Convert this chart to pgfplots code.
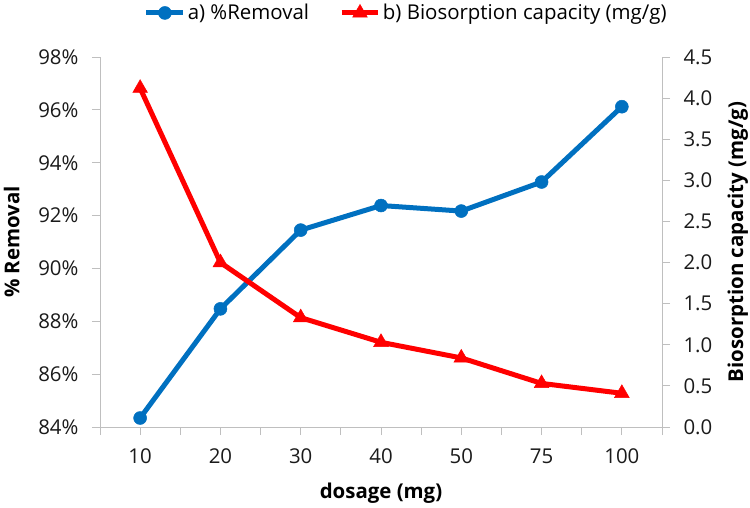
\documentclass[border=0pt]{standalone}
\usepackage{pgfplots}
\pgfplotsset{compat=1.18}
\usepackage{fontspec}
\setmainfont{Open Sans}

\definecolor{remblue}{HTML}{0070C0}
\definecolor{capred}{HTML}{FF0000}
\definecolor{axgray}{HTML}{BFBFBF}
\definecolor{txt}{HTML}{1A1A1A}

\begin{document}
\begin{tikzpicture}
\pgfplotsset{
  every axis/.append style={
    scale only axis, width=562bp, height=370bp,
    at={(100bp,81bp)}, anchor=south west,
    xmin=-0.5, xmax=6.5, clip=false,
    font=\fontsize{20.5}{24}\selectfont,
    /pgf/number format/assume math mode=true,
    axis line style={axgray, line width=0.9bp},
    tick style={axgray, line width=0.9bp},
    major tick length=8bp, minor tick length=8bp,
    tick align=outside,
    ticklabel style={text=txt},
    label style={font=\fontsize{20.5}{24}\selectfont\bfseries, text=black},
  },
}
% left axis: removal efficiency
\begin{axis}[
  axis y line*=left, axis x line*=bottom,
  xtick={0,...,6}, xticklabels={10,20,30,40,50,75,100},
  minor xtick={-0.5,0.5,...,6.5},
  xticklabel style={yshift=-10bp},
  ymin=84, ymax=98, ytick={84,86,...,98},
  yticklabel={\pgfmathprintnumber{\tick}\%},
  yticklabel style={xshift=-10bp},
  xlabel={dosage (mg)}, ylabel={\% Removal},
  xlabel style={at={(axis description cs:0.5,-0.178)}, anchor=center},
  ylabel style={at={(axis description cs:-0.157,0.5)}, anchor=center},
]
\addplot[remblue, line width=5bp, mark=*, mark size=6.5bp, mark options={line width=0.5bp}]
  coordinates {(0,84.34) (1,88.47) (2,91.45) (3,92.38) (4,92.17) (5,93.27) (6,96.12)};
\end{axis}
% right axis: biosorption capacity
\begin{axis}[
  axis y line*=right, axis x line=none,
  ymin=0, ymax=4.5, ytick={0,0.5,...,4.5},
  yticklabel style={xshift=10bp, /pgf/number format/.cd, fixed, fixed zerofill, precision=1},
  ylabel={Biosorption capacity (mg/g)},
  ylabel style={at={(axis description cs:1.135,0.5)}, anchor=center},
  legend image code/.code={\draw[mark repeat=2,mark phase=2] plot coordinates {(0cm,0cm) (0.65cm,0cm) (1.3cm,0cm)};},
  legend style={at={(axis description cs:0.545,1.119)}, anchor=center, draw=none, fill=none,
    legend columns=2, font=\fontsize{20.5}{24}\selectfont,
    /tikz/every even column/.append style={column sep=28bp}},
  legend cell align=left,
]
\addlegendimage{remblue, line width=5bp, mark=*, mark size=6.5bp, mark options={line width=0.5bp}}
\addlegendentry{a) \%Removal}
\addplot[capred, line width=5bp, mark=triangle*, mark size=8.5bp, mark options={line width=0.5bp}]
  coordinates {(0,4.12) (1,2.00) (2,1.33) (3,1.03) (4,0.84) (5,0.53) (6,0.41)};
\addlegendentry{b) Biosorption capacity (mg/g)}
\end{axis}
\pgfresetboundingbox
\useasboundingbox (0,0) rectangle (750bp,508bp);
\end{tikzpicture}
\end{document}
